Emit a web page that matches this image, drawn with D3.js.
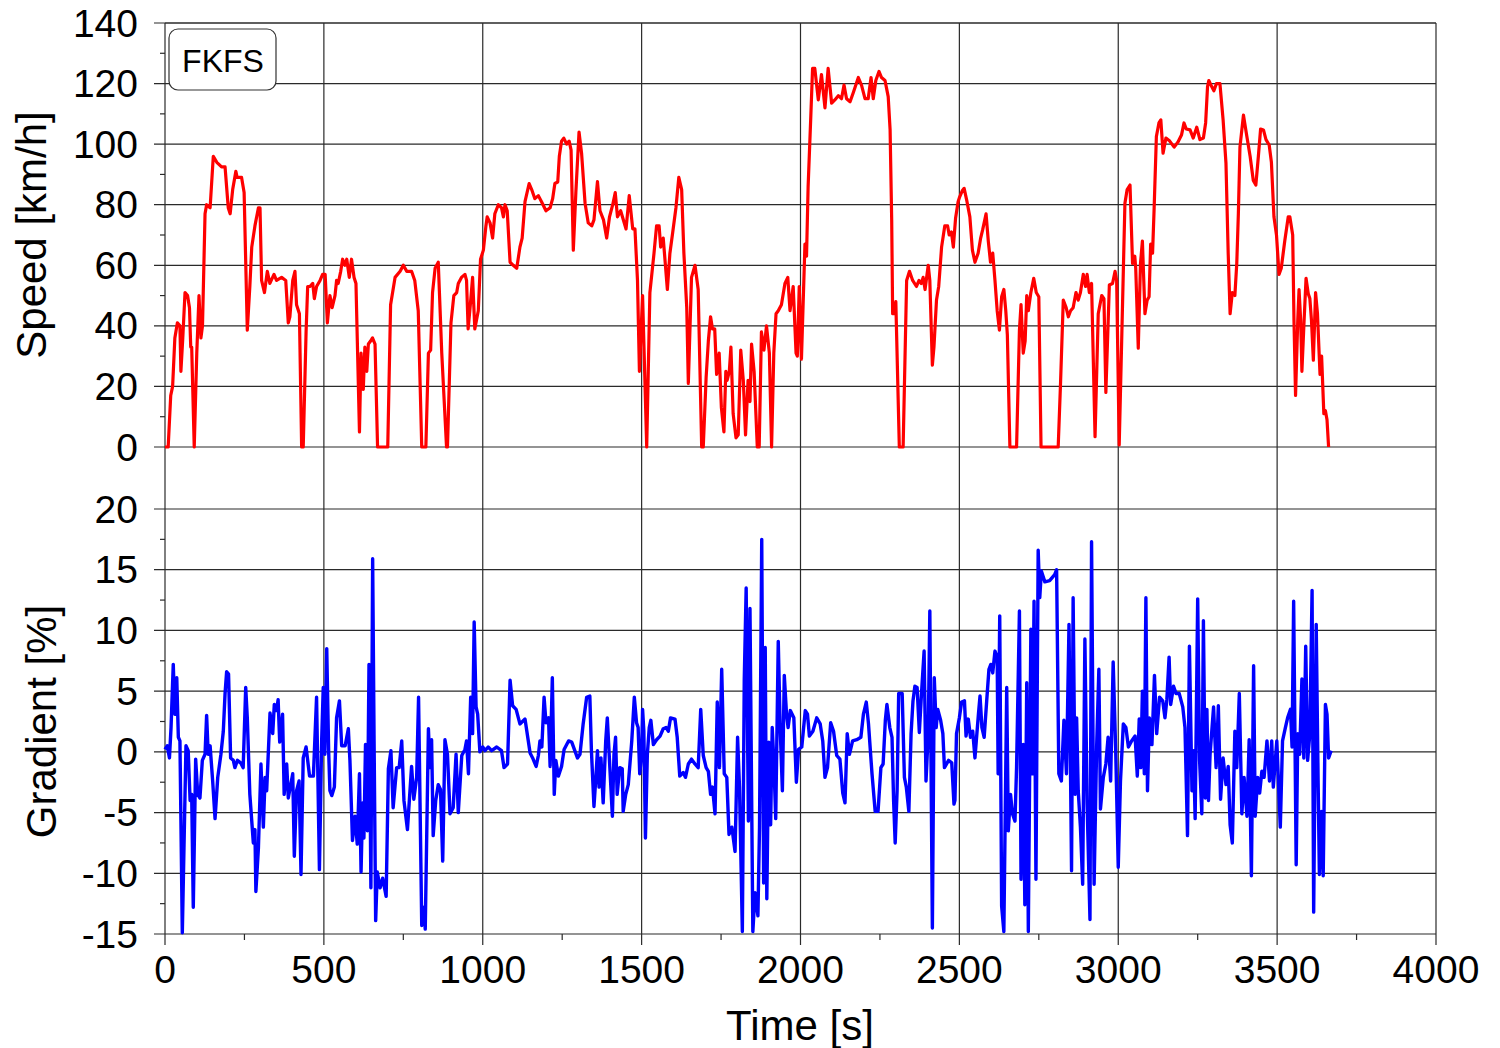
<!DOCTYPE html>
<html>
<head>
<meta charset="utf-8">
<script src="https://cdn.jsdelivr.net/npm/d3@7"></script>
<style>
  html, body { margin: 0; padding: 0; background: #fff; }
  svg { display: block; font-family: "Liberation Sans", Arial, sans-serif; }
</style>
</head>
<body>
<svg id="chart" width="1500" height="1048"></svg>
<script>
// ---------------- DATA ----------------
const xTicks = [0, 500, 1000, 1500, 2000, 2500, 3000, 3500, 4000];
const speedTicks = [0, 20, 40, 60, 80, 100, 120, 140];
const gradTicks = [-15, -10, -5, 0, 5, 10, 15, 20];
const boxLabel = "FKFS";

const speedTime = [0,10,18,24,31,39,47,50,56,63,71,77,81,84,92,100,107,113,118,126,131,142,152,163,178,189,199,205,213,223,227,241,249,259,267,273,283,294,299,304,313,322,330,343,351,367,380,388,393,402,409,414,423,430,435,444,449,456,465,470,477,488,496,504,511,519,526,535,540,545,553,559,566,572,580,587,595,601,612,617,624,629,635,640,647,653,661,669,701,710,724,740,750,761,776,786,797,808,821,829,836,842,850,860,871,886,889,900,909,918,923,933,944,949,954,961,968,975,986,993,1002,1010,1014,1023,1031,1038,1049,1059,1065,1070,1077,1086,1096,1107,1117,1124,1133,1146,1154,1164,1175,1185,1199,1212,1220,1227,1236,1241,1248,1255,1264,1272,1278,1285,1293,1303,1311,1322,1332,1343,1350,1361,1369,1380,1390,1399,1409,1417,1424,1434,1451,1461,1472,1479,1487,1493,1503,1516,1526,1539,1547,1555,1560,1568,1581,1589,1598,1608,1617,1626,1633,1642,1647,1657,1668,1678,1689,1694,1703,1710,1717,1723,1730,1736,1744,1751,1759,1765,1769,1776,1781,1788,1797,1804,1812,1820,1827,1835,1841,1846,1854,1864,1870,1877,1885,1893,1902,1909,1916,1923,1930,1940,1951,1960,1967,1977,1986,1990,1996,2003,2014,2019,2024,2032,2038,2045,2056,2066,2077,2087,2098,2108,2119,2129,2137,2145,2156,2166,2182,2192,2203,2213,2222,2229,2237,2247,2255,2266,2276,2282,2287,2290,2294,2300,2311,2323,2334,2343,2353,2365,2373,2380,2386,2392,2402,2407,2415,2420,2428,2435,2444,2454,2463,2468,2475,2481,2488,2496,2501,2509,2515,2524,2533,2541,2549,2559,2567,2573,2584,2591,2598,2605,2612,2619,2626,2633,2640,2646,2651,2659,2680,2689,2694,2701,2707,2712,2717,2725,2734,2742,2750,2757,2811,2818,2827,2836,2843,2850,2858,2867,2874,2881,2890,2897,2902,2909,2916,2927,2937,2948,2955,2961,2972,2982,2990,2995,3003,3011,3021,3028,3037,3045,3052,3055,3063,3070,3076,3084,3091,3097,3102,3108,3113,3120,3128,3134,3141,3150,3162,3176,3188,3199,3207,3214,3226,3236,3247,3257,3268,3275,3281,3285,3294,3301,3309,3320,3330,3339,3346,3352,3359,3367,3373,3378,3383,3394,3404,3415,3425,3433,3441,3448,3457,3465,3475,3482,3490,3498,3506,3513,3524,3535,3540,3549,3553,3558,3565,3569,3574,3578,3585,3591,3598,3603,3608,3614,3621,3627,3635,3640,3647,3652,3657,3662];
const speedValues = [0,0,17,20,36,41,40,25,36,51,50,46,33,33,0,31,50,36,40,77,80,79,96,94,92.5,92.5,79,77,85,91,89,89,84,38.6,53,66,73,79,79,55,51,58,54,57,55,56,55,41,43,55,58,47,44,0,0,38,53,53,54,49,53,55,57,57,41,50,46,50,55,54,58,62,60,62,56,62,56,54,5,31,19,33,25,34,35,36,34,0,0,47,56,58,60,58,58,55,45,0,0,31,32,51,59,61,31,0,0,41,50,51,54,56,57,55,39,47,56,39,45,62,65,73,76,74,69,77,80,79,76,80,78,61,60,59,66,69,81,87,85,82,83,81,78,79,82,87,87.5,96,101,102,100,101,98,65,84,104,97,80.5,74,73,75,87.6,78,75,69,76,80,84,76,78,72,83,72,72,55,25,50,0,51,64,73,73,66,69,52,64,71,79,89,85,64,46,21,56,60,52,0,0,23,35,43,39,39,24,31,13,5,25,22,25,33,11,3,4,32,22,4,22,15,34,25,0,0,38,32,40,31,0,31,44,45,47,54,56,45,53,31,30,53,29,67,63,86,108,125,125,114.6,123,112,125,113.5,114.6,116,115,119.5,115,114,117,122,119.5,115,115,122,115,121,124,122,121,115.7,104.7,75,44,44,48,0,0,55,58,55,53,55,54,56,52,60,55,27,33,48.5,53,66,73,73,70,71,66,75.5,81,82.6,84.6,85.4,81,76,65,61,64,69,71.6,77,68,61,64,55,45,38.6,49.6,52,45,37,0,0,38.6,47,31,35,50,45,51,55.7,51,49.6,0,0,20,48.5,46,43,45,46,51,48.5,51,57,53,57,51,54,3.4,44,50,49,18,53.5,54,58,55,0.7,36,80.5,85,86.5,60.6,63,59,32.6,60.6,68,44,48.5,49.6,67,64,79,102.5,107,108,97,102,101,99,100.7,103,107,105,104.7,102,105.6,101.5,102,107,119,121,119,117.6,120,120,108,93.7,64,44,51,50,60.6,77,99,109.6,103,96,88,86.5,96,105,104.7,101.5,99.7,94,76,70,57,59,68,76,76,70,42,17,42,52,42,25,42,55.7,50.6,49,42,28.7,51,44,24,30,11,12,9,0];

// gradient [time s, gradient %] in three stretches
const gradPart1 = [[0,0.2],[7,0.5],[14,-0.5],[19,2],[26,7.2],[31,3.1],[37,6.1],[42,1.2],[47,0.9],[54.5,-14.9],[66,0.5],[73,0.1],[79,-4],[84,-3.5],[89,-12.8],[96.5,-0.6],[103,-3.5],[110,-3.8],[117.5,-0.7],[126,-0.2],[131,3],[136,-0.2],[142,0.5],[150,-2.4],[157.5,-5.5],[166,-2.1],[176,-0.2],[183.5,1.7],[189,4.8],[194,6.6],[200,6.4],[206.5,-0.5],[215,-0.7],[220,-1.3],[228,-0.7],[238,-0.9],[246,-1.3],[254,5.3],[259,2.8],[267,-3.5],[278,-7.5],[283,-6.4],[286,-11.5],[294,-7.9],[302,-1],[309.5,-6.2],[315,-2.1],[320,-3.2],[330.5,3.2],[339,1.5],[344,3.9],[351,3.4],[356,4.3],[361,0.8],[370,3.1],[375,-3.5],[383,-1],[388,-3.8],[402,-1.8],[407,-8.6],[414,-3.2],[422,-2.4],[428,-10.1],[435,-0.5],[444,0.4],[455,-2],[467,-2],[477,4.5],[486,-9.7],[493,0.9],[498,5.3],[503,-0.2],[509,8.5],[515,0.1],[519,-3.2],[525,-3.6],[533,-2.9],[540,2.8],[549,4.2],[556,0.5],[567,0.5],[577,1.9],[582,-0.7],[590,-7.3],[598,-5.3],[605,-7.6],[612,-1.8],[617,-9.9],[622,-4.2],[626,-7.1],[631,0.6],[637,-6.5],[642,7.2],[648,-11.2],[653.5,15.9],[658,0.9],[663,-13.9],[668,-9.9],[677,-11.2],[685,-10.4],[696,-11.9],[703,-1.4],[711,0.1],[718,-4.6],[729,-1.3],[737,-1.3],[745,0.9],[752,-4],[763,-6.4],[776,-1.2],[783,-3.9],[792,-2.1],[798,4.5],[804,-6.8],[808,-14.3],[815,-12.8],[819,-14.6],[829,1.9],[834,-1.3],[839,1],[844,-6.9],[852,-4],[860,-2.7],[867,-3.1],[874,-9],[881,1],[889,-0.2],[897,-5.1],[907,-4.6],[916,-0.2],[923,-5],[934,-0.3],[944,0.2],[949,0.9],[955,-1.8],[962,4.5],[968,1.5],[973,10.7],[979,3.7],[984,3.1],[991,0],[1000,0.4],[1007,0.1],[1017,0.4],[1028,0.1],[1044,0.4]];
const gradPart2 = [[1059,0.1],[1067,-1.3],[1078,-1],[1086,5.9],[1094,3.8],[1105,3.5],[1117,2.3],[1133,2.7],[1149,-0.1],[1157,-0.5],[1168,-1.2],[1175,-0.3],[1180,0.9],[1186,0.4],[1193,4.5],[1199,2.4],[1207,2.8],[1212,-1.2],[1219,6.1],[1225,-3.5],[1230,-0.7],[1238,-2],[1248,-1.2],[1256,0.2],[1270,0.9],[1280,0.8],[1298,-0.5],[1306,-0.2],[1316,2.3],[1327,4.5],[1337,4.6],[1342,0.1],[1350,-4.5],[1356,-2.1],[1361,0.1],[1366,-2.9],[1372,-0.5],[1379,-4.2],[1387,0.9],[1392,2.8],[1400,-1.3],[1408,-5.3],[1413,-0.2],[1418,1.2],[1423,-3.5],[1431,-1.3],[1439,-1.4],[1442,-4.9],[1450,-3.5],[1458,-2.7],[1469,0.9],[1477,4.5],[1484,2.4],[1489,2],[1494,-1.8],[1500,-0.2],[1503,3.5],[1507,1.7],[1512,-7.1],[1518,-0.2],[1524,2],[1529,2.6],[1537,0.6],[1547,1],[1558,1.3],[1568,1.9],[1577,2],[1584,1.7],[1591,2.8],[1605,2.7],[1612,1.2],[1620,-2],[1631,-1.7],[1638,-2.1],[1647,-1],[1657,-0.6],[1668,-1],[1678,-1.3],[1686,3.5],[1694,-0.3],[1703,-1.3],[1710,-1.6],[1717,-3.5],[1723,-2.9],[1731,-5.1],[1738,4.1],[1745,-1.3],[1752,6.8],[1760,-1.8],[1768,-2.1],[1775,-6.8],[1784,-6.2],[1794,-8.2],[1802,1.2],[1808,-2.9],[1817,-14.8],[1823,5.9],[1829,13.5],[1836,-5.7],[1841,11.8],[1850,-14.8],[1857,-11.6],[1866,-13.5],[1871,-6.2],[1878,17.5],[1884,-10.8],[1889,8.6],[1894,-12.1],[1900,0.8],[1906,-6],[1911,2],[1916,-0.7],[1922,-5.5],[1930,9.1],[1936,2],[1943,-3.2],[1949,6.3],[1956,3.1],[1961,2],[1968,3.4],[1979,2.8],[1987,-2.5],[1994,0.2],[2004,0.4],[2015,3.4],[2022,3.1],[2028,1.3],[2039,1.7],[2051,2.8],[2062,2.3],[2070,0.9],[2077,-2.1],[2085,-1.3],[2095,2.4],[2104,1.7],[2114,-0.3],[2124,-0.6],[2133,-3.4],[2140,-4.2],[2147,1.5],[2154,-0.2],[2164,0.9],[2177,1],[2190,1.2],[2198,3.1],[2207,4.1],[2214,2.3],[2225,-1.8],[2235,-4.9],[2244,-4.9],[2253,-1.3],[2260,-1],[2267,2.6],[2272,3.9],[2281,2],[2288,1.2],[2293,-4],[2298,-7.5],[2304,-3.2],[2309,4.8],[2320,4.8],[2327,-2.1],[2333,-2.9],[2341,-4.9],[2348,1.5],[2354,4.2]];
const gradPart3 = [[2360,5.4],[2367,5.3],[2374,1.6],[2381,4.9],[2389,8.3],[2395,-2.4],[2402,1.5],[2407,11.6],[2415,-14.5],[2421,6.1],[2427,2],[2432,3.5],[2441,2.6],[2448,1.5],[2453,-1.3],[2466,-0.7],[2476,-0.9],[2483,-4.3],[2486,-4],[2491,1.5],[2500,2.8],[2507,4.1],[2516,4.2],[2521,1.3],[2528,2.7],[2535,1.2],[2542,1.7],[2549,-0.5],[2560,3.1],[2565,4.6],[2571,2],[2578,1.2],[2586,4.2],[2593,6.8],[2599,7.2],[2605,6.5],[2612,8.3],[2619,7.8],[2622,-1.8],[2627,11.2],[2633,-12.7],[2640,-14.8],[2649,5.3],[2654,-6.5],[2661,-3.5],[2667,-5.1],[2675,-5.7],[2680,-1.3],[2689,11.6],[2694,-10.5],[2701,0.6],[2706,-12.6],[2712,5.7],[2717,-14.8],[2725,10.1],[2730,-1.8],[2735,12.4],[2741,-10.5],[2748,16.6],[2753,12.7],[2758,14.9],[2769,14],[2784,14.1],[2800,14.6],[2806,15],[2813,-1.8],[2821,-2.4],[2829,2.6],[2837,-1.8],[2845,10.5],[2853,-9.8],[2858,12.7],[2864,-3.5],[2869,2.8],[2874,-3.2],[2881,-6.2],[2888,-10.9],[2895,9.3],[2902,-4.3],[2911,-13.8],[2916,17.3],[2924,-10.9],[2932,0.4],[2939,6.8],[2944,-4.7],[2953,-2.1],[2961,-1],[2968,1.2],[2976,-2.4],[2984,7.4],[2992,0.1],[3000,-9.5],[3007,-2.4],[3016,2.3],[3024,2],[3032,0.4],[3042,0.9],[3053,1.3],[3060,-2],[3066,2.7],[3071,-1.3],[3076,5],[3082,-1.8],[3087,12.7],[3092,-3.2],[3098,2.8],[3106,0.6],[3114,6.3],[3121,1.5],[3130,4.5],[3140,4.2],[3147,2.8],[3153,4.3],[3160,7.8],[3165,3.9],[3174,5.4],[3182,4.8],[3192,4.8],[3203,3.7],[3210,2],[3218,-6.9],[3224,8.7],[3232,-3.2],[3237,0.1],[3242,-5.5],[3250,12.6],[3256,-0.7],[3263,-5.1],[3268,10.8],[3274,-3.8],[3279,3.5],[3284,-4],[3289,-0.2],[3300,3.7],[3308,-1.3],[3315,3.8],[3322,-3.9],[3330,-0.5],[3339,-2.7],[3346,-1.2],[3352,-6],[3359,-7.5],[3367,1.7],[3373,-1.3],[3381,4.8],[3389,-5.1],[3396,-2.1],[3405,-5.3],[3412,1],[3419,-10.2],[3426,7.1],[3431,-5.3],[3439,-2.1],[3445,-3.4],[3452,-1.6],[3459,-2.1],[3468,0.9],[3476,-2.4],[3483,0.9],[3488,-2.9],[3499,0.9],[3510,-6.2],[3517,0.9],[3526,2],[3533,2.8],[3542,3.5],[3547,0.4],[3552,12.4],[3560,-9.3],[3565,1.5],[3571,-0.2],[3578,6],[3584,-0.5],[3590,8.7],[3596,-0.7],[3603,1.5],[3610,13.3],[3615,-13.2],[3623,10.5],[3629,-2.4],[3633,-10.1],[3640,-4.9],[3645,-10.2],[3652,3.9],[3657,3.1],[3662,-0.5],[3670,0.1]];

// ---------------- LAYOUT ----------------
const plotLeft = 165, plotRight = 1436, plotTop = 23, plotBottom = 934;
const speedBottom = 447, gradTop = 509;

const svg = d3.select("#chart");

const x = d3.scaleLinear().domain([0, 4000]).range([plotLeft, plotRight]);
const ySpeed = d3.scaleLinear().domain([0, 140]).range([speedBottom, plotTop]);
const yGrad = d3.scaleLinear().domain([-15, 20]).range([plotBottom, gradTop]);

const gridColor = "#2a2a2a";

const gGrid = svg.append("g");
speedTicks.forEach(v => {
  gGrid.append("line").attr("x1", plotLeft - 11).attr("x2", plotRight)
    .attr("y1", ySpeed(v)).attr("y2", ySpeed(v))
    .attr("stroke", gridColor).attr("stroke-width", 1.2);
});
gradTicks.forEach(v => {
  gGrid.append("line").attr("x1", plotLeft - 11).attr("x2", plotRight)
    .attr("y1", yGrad(v)).attr("y2", yGrad(v))
    .attr("stroke", gridColor).attr("stroke-width", 1.2);
});
d3.range(10, 140, 20).forEach(v => {
  gGrid.append("line").attr("x1", plotLeft - 5).attr("x2", plotLeft)
    .attr("y1", ySpeed(v)).attr("y2", ySpeed(v))
    .attr("stroke", gridColor).attr("stroke-width", 1.2);
});
d3.range(-12.5, 20, 5).forEach(v => {
  gGrid.append("line").attr("x1", plotLeft - 5).attr("x2", plotLeft)
    .attr("y1", yGrad(v)).attr("y2", yGrad(v))
    .attr("stroke", gridColor).attr("stroke-width", 1.2);
});
xTicks.forEach(t => {
  gGrid.append("line").attr("x1", x(t)).attr("x2", x(t))
    .attr("y1", plotTop).attr("y2", plotBottom + 11)
    .attr("stroke", gridColor).attr("stroke-width", 1.2);
});
d3.range(250, 4000, 500).forEach(t => {
  gGrid.append("line").attr("x1", x(t)).attr("x2", x(t))
    .attr("y1", plotBottom).attr("y2", plotBottom + 6)
    .attr("stroke", gridColor).attr("stroke-width", 1.2);
});
gGrid.append("line").attr("x1", plotLeft).attr("x2", plotRight)
  .attr("y1", plotTop).attr("y2", plotTop).attr("stroke", gridColor).attr("stroke-width", 1.2);

// ---------------- LINES ----------------
const speedData = speedTime.map((t, i) => [t, speedValues[i]]);
const gradData = gradPart1.concat(gradPart2, gradPart3);

svg.append("path")
  .datum(speedData)
  .attr("fill", "none")
  .attr("stroke", "#ff0000")
  .attr("stroke-width", 3.2)
  .attr("stroke-linejoin", "round")
  .attr("d", d3.line().x(d => x(d[0])).y(d => ySpeed(d[1])));

svg.append("path")
  .datum(gradData)
  .attr("fill", "none")
  .attr("stroke", "#0000ff")
  .attr("stroke-width", 3.4)
  .attr("stroke-linejoin", "round")
  .attr("d", d3.line().x(d => x(d[0])).y(d => yGrad(d[1])));

// ---------------- AXIS LABELS ----------------
const fs = 39;
speedTicks.forEach(v => {
  svg.append("text").attr("x", 138).attr("y", ySpeed(v))
    .attr("text-anchor", "end").attr("dominant-baseline", "central")
    .attr("font-size", fs).attr("fill", "#000").text(v);
});
gradTicks.forEach(v => {
  svg.append("text").attr("x", 138).attr("y", yGrad(v))
    .attr("text-anchor", "end").attr("dominant-baseline", "central")
    .attr("font-size", fs).attr("fill", "#000").text(v);
});
xTicks.forEach(t => {
  svg.append("text").attr("x", x(t)).attr("y", 983)
    .attr("text-anchor", "middle")
    .attr("font-size", fs).attr("fill", "#000").text(t);
});

svg.append("text").attr("x", 800).attr("y", 1040)
  .attr("text-anchor", "middle").attr("font-size", 42).text("Time [s]");

svg.append("text")
  .attr("transform", `translate(46, ${(plotTop + speedBottom) / 2}) rotate(-90)`)
  .attr("text-anchor", "middle").attr("font-size", 42).text("Speed [km/h]");

svg.append("text")
  .attr("transform", `translate(56, ${(gradTop + plotBottom) / 2}) rotate(-90)`)
  .attr("text-anchor", "middle").attr("font-size", 42).text("Gradient [%]");

// ---------------- LABEL BOX ----------------
svg.append("rect").attr("x", 169).attr("y", 29).attr("width", 107).attr("height", 61)
  .attr("rx", 9).attr("ry", 9)
  .attr("fill", "#fff").attr("stroke", "#333").attr("stroke-width", 1.2);
svg.append("text").attr("x", 223).attr("y", 72)
  .attr("text-anchor", "middle").attr("font-size", 32).text(boxLabel);
</script>
</body>
</html>
